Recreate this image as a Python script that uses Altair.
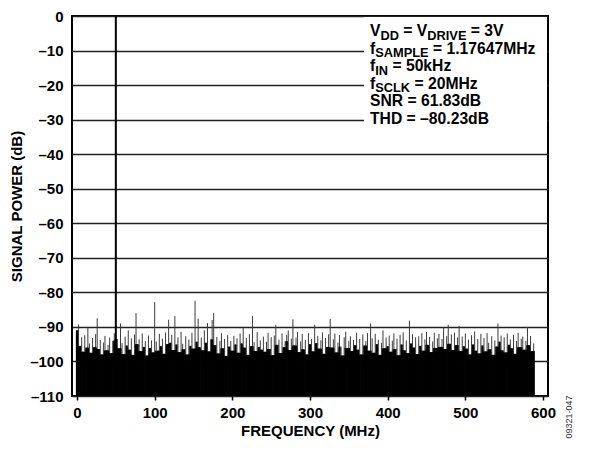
import altair as alt
import pandas as pd

# ---------------- data ----------------
bin_khz = 2
levels_db = [
    -91.0, -89.3, -95.5, -93.0, -97.2, -92.4, -96.0, -90.0, -94.8, -97.5, -93.2, -95.9, -92.1, -87.5, -96.4, -93.8, -98.0, -94.5, -92.6, -96.8,
    -95.2, -93.1, -97.6, -94.0, -91.8, 0.0, -93.5, -96.2, -89.0, -94.7, -97.9, -92.8, -95.4, -91.0, -96.6, -93.3, -98.1, -92.2, -86.0, -95.0,
    -93.6, -97.0, -91.9, -95.8, -94.1, -98.3, -92.5, -96.1, -93.9, -97.4, -82.8, -94.2, -96.9, -92.0, -95.6, -93.4, -97.8, -91.6, -95.0, -87.9,
    -94.6, -92.3, -96.7, -86.9, -95.1, -93.0, -97.3, -91.4, -94.9, -96.5, -92.7, -98.0, -93.7, -95.5, -91.7, -96.3, -82.4, -94.3, -87.6, -95.9,
    -93.1, -96.8, -91.0, -94.6, -88.9, -97.1, -93.6, -88.0, -86.0, -95.3, -92.9, -97.7, -94.0, -91.8, -96.2, -93.5, -98.4, -92.4, -95.7, -94.1,
    -96.9, -92.6, -95.1, -93.3, -97.5, -91.9, -94.8, -90.0, -96.0, -93.2, -98.1, -92.1, -95.6, -86.9, -94.4, -97.0, -91.5, -95.8, -93.9, -96.6,
    -92.8, -97.2, -94.3, -91.7, -96.4, -93.0, -98.2, -92.5, -89.4, -95.2, -93.7, -97.6, -91.9, -95.9, -94.1, -92.3, -91.0, -96.7, -93.4, -87.8,
    -95.4, -93.1, -91.5, -97.3, -94.2, -92.0, -96.5, -93.8, -98.0, -91.8, -95.0, -93.5, -97.1, -89.4, -94.7, -92.6, -96.3, -93.9, -91.6, -97.8,
    -93.2, -95.8, -92.1, -87.7, -96.0, -93.6, -91.9, -97.4, -94.5, -92.4, -95.7, -98.3, -93.0, -91.4, -96.1, -94.0, -92.7, -97.0, -93.8, -95.3,
    -91.7, -96.6, -93.5, -98.0, -92.2, -95.4, -94.1, -91.8, -96.9, -89.0, -93.3, -97.5, -92.0, -95.0, -93.7, -98.1, -94.6, -91.0, -96.2, -93.1,
    -95.6, -92.5, -97.2, -94.0, -91.9, -96.4, -93.4, -98.2, -92.3, -95.1, -91.6, -96.8, -93.9, -97.6, -88.2, -94.8, -92.1, -96.0, -93.0, -97.9,
    -92.7, -95.5, -91.8, -96.9, -93.6, -91.5, -95.2, -92.9, -97.3, -94.2, -91.7, -96.1, -93.3, -92.0, -95.8, -93.5, -90.0, -96.4, -92.6, -89.4,
    -94.9, -92.2, -96.7, -91.6, -95.3, -93.1, -89.7, -97.0, -92.8, -95.6, -91.9, -96.3, -93.7, -98.0, -92.4, -95.1, -91.3, -96.9, -93.5, -97.7,
    -92.0, -95.4, -93.2, -97.1, -91.8, -94.6, -96.5, -92.7, -98.1, -93.9, -95.7, -89.0, -94.3, -92.5, -96.8, -93.0, -97.4, -91.9, -95.2, -93.6,
    -96.2, -92.3, -97.8, -94.1, -91.7, -95.9, -93.4, -92.8, -96.6, -94.0, -90.0, -95.3, -92.6, -97.0, -94.8,
]
freq_khz = [i * bin_khz for i in range(len(levels_db))]

x_ticks = [0, 100, 200, 300, 400, 500, 600]
y_ticks = [0, -10, -20, -30, -40, -50, -60, -70, -80, -90, -100, -110]

annotation_lines = [
    [("V", 0), ("DD", 1), (" = V", 0), ("DRIVE", 1), (" = 3V", 0)],
    [("f", 0), ("SAMPLE", 1), (" = 1.17647MHz", 0)],
    [("f", 0), ("IN", 1), (" = 50kHz", 0)],
    [("f", 0), ("SCLK", 1), (" = 20MHz", 0)],
    [("SNR = 61.83dB", 0)],
    [("THD = \u201380.23dB", 0)],
]
figure_code = "09321-047"

# ---------------- layout ----------------
W, H = 476, 380
FONT = "Liberation Sans"
MAIN_FS, SUB_FS = 15.7, 12.8

# Arial/Liberation Sans Bold advance widths (em)
adv = {
    " ": .278, "=": .584, "V": .667, "D": .722, "R": .722, "I": .278, "E": .667,
    "S": .667, "A": .722, "M": .833, "P": .667, "L": .611, "H": .722, "N": .722,
    "C": .722, "K": .722, "T": .611, "B": .722, "f": .333, "z": .5, "k": .556,
    "d": .611, ".": .278, "\u2013": .556,
}
for ch in "0123456789":
    adv[ch] = .556

def text_width(s, fs):
    return sum(adv.get(c, .6) for c in s) * fs

ann_x0 = 298
ann_y0 = 20
line_gap = 17.6
rows = []
for li, line in enumerate(annotation_lines):
    x = ann_x0
    base = ann_y0 + li * line_gap
    for txt, sub in line:
        fs = SUB_FS if sub else MAIN_FS
        stripped = txt.lstrip(" ")
        lead = text_width(txt[: len(txt) - len(stripped)], fs)
        rows.append({"t": stripped, "px": x + lead, "py": base + (3.5 if sub else 0), "fs": fs})
        x += text_width(txt, fs)
ann_df = pd.DataFrame(rows)

spec_df = pd.DataFrame({"f": freq_khz, "db": levels_db})

x_scale = alt.Scale(domain=[0, 600], nice=False)
y_scale = alt.Scale(domain=[-110, 0], nice=False)

x_axis = alt.Axis(values=x_ticks, title="FREQUENCY (MHz)", grid=False,
                  tickSize=4, tickColor="black", tickWidth=1.5,
                  labelPadding=5, titlePadding=3, domain=False)
y_axis = alt.Axis(values=y_ticks, title="SIGNAL POWER (dB)", grid=True,
                  ticks=False, tickSize=0, labelPadding=9, titlePadding=5,
                  domain=False, labelOverlap=False,
                  labelExpr="datum.value == 0 ? '0' : '\u2013' + abs(datum.value)")

base = alt.Chart(spec_df)

# individual FFT lines
lines = base.mark_rule().encode(
    x=alt.X("f:Q", scale=x_scale, axis=x_axis),
    y=alt.Y("db:Q", scale=y_scale, axis=y_axis),
    y2=alt.datum(-110),
    color=alt.condition("datum.db > -50", alt.value("black"), alt.value("#3c3c3c")),
    strokeWidth=alt.condition("datum.db > -50", alt.value(2), alt.value(1)),
)

# dense region where neighbouring FFT lines overlap: solid black
mass = base.transform_window(
    floor="min(db)", frame=[-1, 1], sort=[alt.SortField("f")]
).mark_bar(size=2.3, color="black").encode(
    x=alt.X("f:Q", scale=x_scale, axis=x_axis),
    y=alt.Y("floor:Q", scale=y_scale, axis=y_axis),
    y2=alt.datum(-110),
)

box = alt.Chart(pd.DataFrame({"k": [0]})).mark_rect(fill="white").encode(
    x=alt.value(292), x2=alt.value(W - 1), y=alt.value(1), y2=alt.value(116)
)

ann = alt.Chart(ann_df).mark_text(
    font=FONT, fontWeight="bold", align="left", baseline="alphabetic", color="black"
).encode(
    x=alt.X("px:Q", scale=None), y=alt.Y("py:Q", scale=None),
    text="t:N", size=alt.Size("fs:Q", scale=None, legend=None),
)

code = alt.Chart(pd.DataFrame({"t": [figure_code]})).mark_text(
    font=FONT, fontSize=9, angle=270, align="center", baseline="middle", color="#333"
).encode(x=alt.value(W + 21), y=alt.value(H + 21), text="t:N")

chart = alt.layer(lines, mass, box, ann, code).properties(
    width=W, height=H,
    autosize=alt.AutoSizeParams(type="none"),
    padding={"left": 64, "top": 8, "right": 28, "bottom": 43},
).configure_view(
    stroke="black", strokeWidth=2
).configure_axis(
    labelFont=FONT, labelFontWeight="bold", labelFontSize=15, labelColor="black",
    titleFont=FONT, titleFontWeight="bold", titleFontSize=15, titleColor="black",
    gridColor="#222", gridWidth=1.3, gridOpacity=1,
)

chart.save("out.html", embed_options={"renderer": "svg", "actions": False})
